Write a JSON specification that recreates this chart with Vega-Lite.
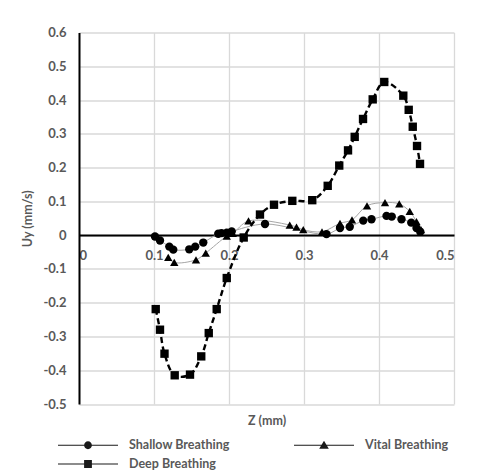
{
  "$schema": "https://vega.github.io/schema/vega-lite/v6.json",
  "autosize": "none",
  "width": 375,
  "height": 371.5,
  "padding": {"left": 79, "top": 32.5, "right": 44, "bottom": 67},
  "background": "white",
  "config": {
    "font": "Lato",
    "view": {"stroke": null},
    "axis": {
      "labelFont": "Lato", "labelFontWeight": "bold", "labelFontSize": 13, "labelColor": "#595959",
      "titleFont": "Lato", "titleFontWeight": "bold", "titleFontSize": 12.5, "titleColor": "#595959",
      "gridColor": "#d9d9d9", "gridWidth": 1.3, "ticks": false
    }
  },
  "data": {
    "values": [
      {"series": "Shallow Breathing", "z": 0.1013, "uy": -0.004},
      {"series": "Shallow Breathing", "z": 0.108, "uy": -0.016},
      {"series": "Shallow Breathing", "z": 0.1204, "uy": -0.034},
      {"series": "Shallow Breathing", "z": 0.1257, "uy": -0.043},
      {"series": "Shallow Breathing", "z": 0.147, "uy": -0.042},
      {"series": "Shallow Breathing", "z": 0.155, "uy": -0.034},
      {"series": "Shallow Breathing", "z": 0.1657, "uy": -0.022},
      {"series": "Shallow Breathing", "z": 0.1857, "uy": 0.004},
      {"series": "Shallow Breathing", "z": 0.19, "uy": 0.006},
      {"series": "Shallow Breathing", "z": 0.197, "uy": 0.007},
      {"series": "Shallow Breathing", "z": 0.2036, "uy": 0.011},
      {"series": "Shallow Breathing", "z": 0.248, "uy": 0.033},
      {"series": "Shallow Breathing", "z": 0.33, "uy": 0.003},
      {"series": "Shallow Breathing", "z": 0.348, "uy": 0.021},
      {"series": "Shallow Breathing", "z": 0.361, "uy": 0.025},
      {"series": "Shallow Breathing", "z": 0.379, "uy": 0.043},
      {"series": "Shallow Breathing", "z": 0.39, "uy": 0.047},
      {"series": "Shallow Breathing", "z": 0.41, "uy": 0.057},
      {"series": "Shallow Breathing", "z": 0.417, "uy": 0.055},
      {"series": "Shallow Breathing", "z": 0.43, "uy": 0.047},
      {"series": "Shallow Breathing", "z": 0.443, "uy": 0.037},
      {"series": "Shallow Breathing", "z": 0.45, "uy": 0.021},
      {"series": "Shallow Breathing", "z": 0.455, "uy": 0.01},
      {"series": "Vital Breathing", "z": 0.119, "uy": -0.066},
      {"series": "Vital Breathing", "z": 0.127, "uy": -0.081},
      {"series": "Vital Breathing", "z": 0.156, "uy": -0.073},
      {"series": "Vital Breathing", "z": 0.169, "uy": -0.053},
      {"series": "Vital Breathing", "z": 0.197, "uy": -0.003},
      {"series": "Vital Breathing", "z": 0.205, "uy": 0.005},
      {"series": "Vital Breathing", "z": 0.226, "uy": 0.042},
      {"series": "Vital Breathing", "z": 0.281, "uy": 0.03},
      {"series": "Vital Breathing", "z": 0.29, "uy": 0.024},
      {"series": "Vital Breathing", "z": 0.299, "uy": 0.016},
      {"series": "Vital Breathing", "z": 0.324, "uy": 0.01},
      {"series": "Vital Breathing", "z": 0.348, "uy": 0.035},
      {"series": "Vital Breathing", "z": 0.364, "uy": 0.045},
      {"series": "Vital Breathing", "z": 0.384, "uy": 0.087},
      {"series": "Vital Breathing", "z": 0.408, "uy": 0.0965},
      {"series": "Vital Breathing", "z": 0.427, "uy": 0.0925},
      {"series": "Vital Breathing", "z": 0.441, "uy": 0.07},
      {"series": "Vital Breathing", "z": 0.45, "uy": 0.04},
      {"series": "Vital Breathing", "z": 0.456, "uy": 0.016},
      {"series": "Deep Breathing", "z": 0.1023, "uy": -0.219},
      {"series": "Deep Breathing", "z": 0.108, "uy": -0.28},
      {"series": "Deep Breathing", "z": 0.114, "uy": -0.351},
      {"series": "Deep Breathing", "z": 0.1276, "uy": -0.415},
      {"series": "Deep Breathing", "z": 0.148, "uy": -0.413},
      {"series": "Deep Breathing", "z": 0.163, "uy": -0.359},
      {"series": "Deep Breathing", "z": 0.173, "uy": -0.29},
      {"series": "Deep Breathing", "z": 0.1836, "uy": -0.219},
      {"series": "Deep Breathing", "z": 0.197, "uy": -0.127},
      {"series": "Deep Breathing", "z": 0.2196, "uy": -0.007},
      {"series": "Deep Breathing", "z": 0.2413, "uy": 0.061},
      {"series": "Deep Breathing", "z": 0.26, "uy": 0.09},
      {"series": "Deep Breathing", "z": 0.2844, "uy": 0.1015},
      {"series": "Deep Breathing", "z": 0.311, "uy": 0.1035},
      {"series": "Deep Breathing", "z": 0.3316, "uy": 0.146},
      {"series": "Deep Breathing", "z": 0.347, "uy": 0.206},
      {"series": "Deep Breathing", "z": 0.3587, "uy": 0.251},
      {"series": "Deep Breathing", "z": 0.3676, "uy": 0.291},
      {"series": "Deep Breathing", "z": 0.3787, "uy": 0.344},
      {"series": "Deep Breathing", "z": 0.3916, "uy": 0.402},
      {"series": "Deep Breathing", "z": 0.407, "uy": 0.4535},
      {"series": "Deep Breathing", "z": 0.4324, "uy": 0.413},
      {"series": "Deep Breathing", "z": 0.4396, "uy": 0.371},
      {"series": "Deep Breathing", "z": 0.445, "uy": 0.321},
      {"series": "Deep Breathing", "z": 0.4507, "uy": 0.264},
      {"series": "Deep Breathing", "z": 0.4547, "uy": 0.211}
    ]
  },
  "encoding": {
    "x": {
      "field": "z", "type": "quantitative",
      "scale": {"domain": [0, 0.5], "nice": false, "zero": false},
      "axis": {
        "orient": "bottom", "offset": -168.9, "values": [0, 0.1, 0.2, 0.3, 0.4, 0.5],
        "labelExpr": "datum.value == 0 ? '0' : toString(round(datum.value*10)/10)",
        "domainColor": "#000000", "domainWidth": 2, "labelPadding": 14,
        "title": "Z (mm)", "titleY": 185, "titleBaseline": "middle"
      }
    },
    "y": {
      "field": "uy", "type": "quantitative",
      "scale": {"domain": [-0.5, 0.6], "nice": false, "zero": false},
      "axis": {
        "values": [-0.5, -0.4, -0.3, -0.2, -0.1, 0, 0.1, 0.2, 0.3, 0.4, 0.5, 0.6],
        "labelExpr": "datum.value == 0 ? '0' : toString(round(datum.value*10)/10)",
        "domainColor": "#000000", "domainWidth": 2, "labelPadding": 13,
        "title": "Uy (mm/s)", "titlePadding": 8
      }
    }
  },
  "resolve": {"scale": {"shape": "independent"}, "legend": {"shape": "independent"}},
  "layer": [
    {
      "transform": [{"filter": "datum.series == 'Shallow Breathing'"}],
      "mark": {"type": "line", "interpolate": "catmull-rom", "color": "#a6a6a6", "strokeWidth": 1}
    },
    {
      "transform": [{"filter": "datum.series == 'Vital Breathing'"}],
      "mark": {"type": "line", "interpolate": "catmull-rom", "color": "#a6a6a6", "strokeWidth": 1}
    },
    {
      "transform": [{"filter": "datum.series == 'Deep Breathing'"}],
      "mark": {"type": "line", "interpolate": "catmull-rom", "color": "#000000", "strokeWidth": 2.4, "strokeDash": [6, 3.5]}
    },
    {
      "mark": {"type": "point", "filled": true, "opacity": 1, "size": 70, "color": "#000000"},
      "encoding": {
        "shape": {
          "field": "series", "legend": null,
          "scale": {"domain": ["Shallow Breathing", "Vital Breathing", "Deep Breathing"], "range": ["circle", "triangle-up", "square"]}
        }
      }
    },
    {
      "mark": {"type": "point", "filled": true, "opacity": 0, "size": 10, "color": "#1a1a1a"},
      "encoding": {
        "shape": {
          "field": "series",
          "scale": {"domain": ["Shallow Breathing", "Vital Breathing", "Deep Breathing"],
            "range": [
              "M-1,-0.02H1V0.02H-1ZM-0.13,0A0.13,0.13,0,1,1,0.13,0A0.13,0.13,0,1,1,-0.13,0Z",
              "M-1,-0.02H1V0.02H-1ZM0,-0.15L0.16,0.12L-0.16,0.12Z",
              "M-1,-0.02H1V0.02H-1ZM-0.13,-0.13H0.13V0.13H-0.13Z"]},
          "legend": {
            "title": null, "orient": "none", "legendX": -22, "legendY": 406.5,
            "direction": "horizontal",
            "columns": 2, "columnPadding": 63, "rowPadding": 6, "padding": 0,
            "clipHeight": 12, "labelOffset": 10,
            "symbolSize": 3600, "symbolOpacity": 1,
            "labelFont": "Lato", "labelFontWeight": "bold", "labelFontSize": 12.5, "labelColor": "#595959"
          }
        }
      }
    }
  ]
}
